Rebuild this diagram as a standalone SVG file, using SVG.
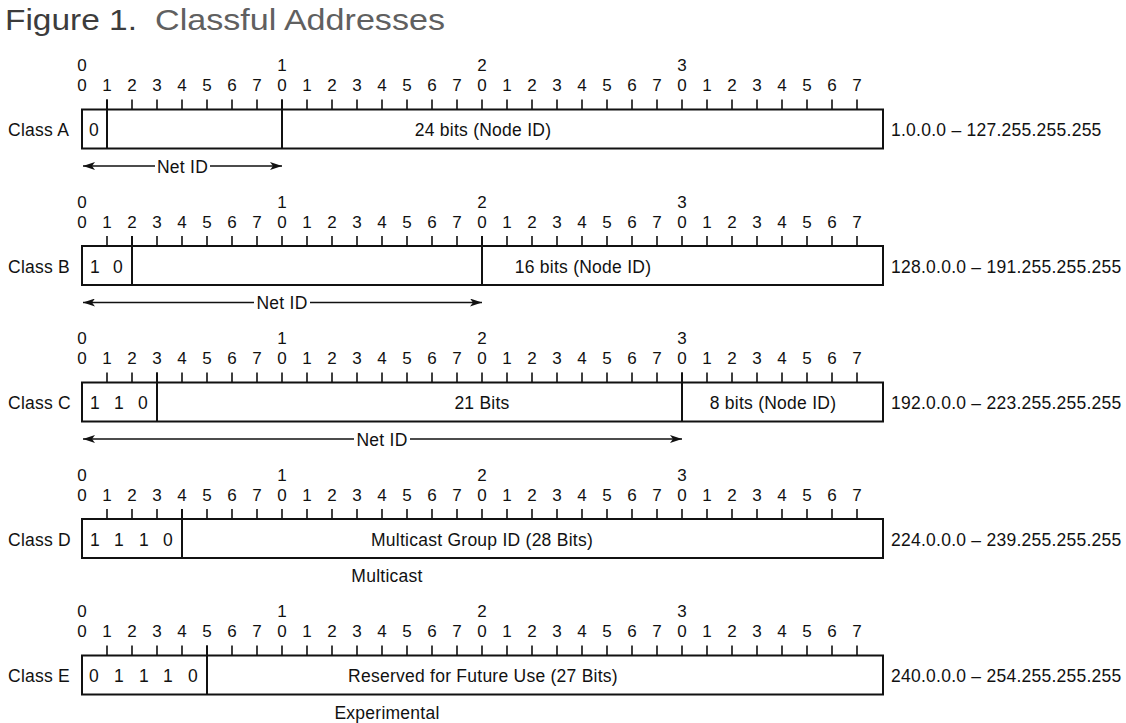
<svg xmlns="http://www.w3.org/2000/svg" width="1126" height="723" viewBox="0 0 1126 723">
  <style>
    text { font-family: "Liberation Sans", Arial, sans-serif; font-size: 17.5px; fill: #111; letter-spacing: 0.25px; }
    .dig { font-size: 17px; text-anchor: middle; letter-spacing: 0; }
    .mid { text-anchor: middle; }
    .box { fill: #fff; stroke: #111; stroke-width: 2; }
    .tick { fill: none; stroke: #111; stroke-width: 1.6; }
    .div { stroke: #111; stroke-width: 2; }
    .arrow { stroke: #111; stroke-width: 1.3; fill: none; }
  </style>
  <defs>
    <marker id="ah" viewBox="0 0 12 8" refX="12" refY="4" markerWidth="12" markerHeight="8" markerUnits="userSpaceOnUse" orient="auto-start-reverse">
      <path d="M0,0 L12,4 L0,8 L3,4 z" fill="#111"/>
    </marker>
  </defs>
  <rect width="1126" height="723" fill="#fff"/>

  <g id="title">
    <text x="5" y="29.5" style="font-size:29px;fill:#3c3c3c;letter-spacing:0" textLength="132" lengthAdjust="spacingAndGlyphs">Figure 1.</text>
    <text x="155" y="29.5" style="font-size:29px;fill:#606060;letter-spacing:0" textLength="290" lengthAdjust="spacingAndGlyphs">Classful Addresses</text>
  </g>

  <g id="classA">
    <text class="dig" x="82 282 482 682" y="71">0123</text>
    <text class="dig" x="82 107 132 157 182 207 232 257 282 307 332 357 382 407 432 457 482 507 532 557 582 607 632 657 682 707 732 757 782 807 832 857" y="91">01234567012345670123456701234567</text>
    <rect class="box" x="82" y="109.5" width="801" height="39"/>
    <path class="tick" d="M107 99.5v10m25-10v10m25-10v10m25-10v10m25-10v10m25-10v10m25-10v10m25-10v10m25-10v10m25-10v10m25-10v10m25-10v10m25-10v10m25-10v10m25-10v10m25-10v10m25-10v10m25-10v10m25-10v10m25-10v10m25-10v10m25-10v10m25-10v10m25-10v10m25-10v10m25-10v10m25-10v10m25-10v10m25-10v10m25-10v10m25-10v10"/>
    <line class="div" x1="107" y1="99.5" x2="107" y2="148.5"/>
    <line class="div" x1="282" y1="99.5" x2="282" y2="148.5"/>
    <text x="8" y="136">Class A</text>
    <text class="mid" x="94" y="136">0</text>
    <text class="mid" x="483" y="136">24 bits (Node ID)</text>
    <text x="891" y="136">1.0.0.0 – 127.255.255.255</text>
  </g>

  <g id="classB" transform="translate(0,136.5)">
    <text class="dig" x="82 282 482 682" y="71">0123</text>
    <text class="dig" x="82 107 132 157 182 207 232 257 282 307 332 357 382 407 432 457 482 507 532 557 582 607 632 657 682 707 732 757 782 807 832 857" y="91">01234567012345670123456701234567</text>
    <rect class="box" x="82" y="109.5" width="801" height="39"/>
    <path class="tick" d="M107 99.5v10m25-10v10m25-10v10m25-10v10m25-10v10m25-10v10m25-10v10m25-10v10m25-10v10m25-10v10m25-10v10m25-10v10m25-10v10m25-10v10m25-10v10m25-10v10m25-10v10m25-10v10m25-10v10m25-10v10m25-10v10m25-10v10m25-10v10m25-10v10m25-10v10m25-10v10m25-10v10m25-10v10m25-10v10m25-10v10m25-10v10"/>
    <line class="div" x1="132" y1="99.5" x2="132" y2="148.5"/>
    <line class="div" x1="482" y1="99.5" x2="482" y2="148.5"/>
    <text x="8" y="136">Class B</text>
    <text class="mid" x="95" y="136">1</text>
    <text class="mid" x="118" y="136">0</text>
    <text class="mid" x="583" y="136">16 bits (Node ID)</text>
    <text x="891" y="136">128.0.0.0 – 191.255.255.255</text>
  </g>

  <g id="classC" transform="translate(0,273)">
    <text class="dig" x="82 282 482 682" y="71">0123</text>
    <text class="dig" x="82 107 132 157 182 207 232 257 282 307 332 357 382 407 432 457 482 507 532 557 582 607 632 657 682 707 732 757 782 807 832 857" y="91">01234567012345670123456701234567</text>
    <rect class="box" x="82" y="109.5" width="801" height="39"/>
    <path class="tick" d="M107 99.5v10m25-10v10m25-10v10m25-10v10m25-10v10m25-10v10m25-10v10m25-10v10m25-10v10m25-10v10m25-10v10m25-10v10m25-10v10m25-10v10m25-10v10m25-10v10m25-10v10m25-10v10m25-10v10m25-10v10m25-10v10m25-10v10m25-10v10m25-10v10m25-10v10m25-10v10m25-10v10m25-10v10m25-10v10m25-10v10m25-10v10"/>
    <line class="div" x1="157" y1="99.5" x2="157" y2="148.5"/>
    <line class="div" x1="682" y1="99.5" x2="682" y2="148.5"/>
    <text x="8" y="136">Class C</text>
    <text class="mid" x="95" y="136">1</text>
    <text class="mid" x="119" y="136">1</text>
    <text class="mid" x="143" y="136">0</text>
    <text class="mid" x="482" y="136">21 Bits</text>
    <text class="mid" x="773" y="136">8 bits (Node ID)</text>
    <text x="891" y="136">192.0.0.0 – 223.255.255.255</text>
  </g>

  <g id="classD" transform="translate(0,409.5)">
    <text class="dig" x="82 282 482 682" y="71">0123</text>
    <text class="dig" x="82 107 132 157 182 207 232 257 282 307 332 357 382 407 432 457 482 507 532 557 582 607 632 657 682 707 732 757 782 807 832 857" y="91">01234567012345670123456701234567</text>
    <rect class="box" x="82" y="109.5" width="801" height="39"/>
    <path class="tick" d="M107 99.5v10m25-10v10m25-10v10m25-10v10m25-10v10m25-10v10m25-10v10m25-10v10m25-10v10m25-10v10m25-10v10m25-10v10m25-10v10m25-10v10m25-10v10m25-10v10m25-10v10m25-10v10m25-10v10m25-10v10m25-10v10m25-10v10m25-10v10m25-10v10m25-10v10m25-10v10m25-10v10m25-10v10m25-10v10m25-10v10m25-10v10"/>
    <line class="div" x1="182" y1="99.5" x2="182" y2="148.5"/>
    <text x="8" y="136">Class D</text>
    <text class="mid" x="95" y="136">1</text>
    <text class="mid" x="119" y="136">1</text>
    <text class="mid" x="144" y="136">1</text>
    <text class="mid" x="168" y="136">0</text>
    <text class="mid" x="482" y="136">Multicast Group ID (28 Bits)</text>
    <text x="891" y="136">224.0.0.0 – 239.255.255.255</text>
    <text class="mid" x="387" y="172.5">Multicast</text>
  </g>

  <g id="classE" transform="translate(0,546)">
    <text class="dig" x="82 282 482 682" y="71">0123</text>
    <text class="dig" x="82 107 132 157 182 207 232 257 282 307 332 357 382 407 432 457 482 507 532 557 582 607 632 657 682 707 732 757 782 807 832 857" y="91">01234567012345670123456701234567</text>
    <rect class="box" x="82" y="109.5" width="801" height="39"/>
    <path class="tick" d="M107 99.5v10m25-10v10m25-10v10m25-10v10m25-10v10m25-10v10m25-10v10m25-10v10m25-10v10m25-10v10m25-10v10m25-10v10m25-10v10m25-10v10m25-10v10m25-10v10m25-10v10m25-10v10m25-10v10m25-10v10m25-10v10m25-10v10m25-10v10m25-10v10m25-10v10m25-10v10m25-10v10m25-10v10m25-10v10m25-10v10m25-10v10"/>
    <line class="div" x1="207" y1="99.5" x2="207" y2="148.5"/>
    <text x="8" y="136">Class E</text>
    <text class="mid" x="94" y="136">0</text>
    <text class="mid" x="119" y="136">1</text>
    <text class="mid" x="144" y="136">1</text>
    <text class="mid" x="168" y="136">1</text>
    <text class="mid" x="193" y="136">0</text>
    <text class="mid" x="483" y="136">Reserved for Future Use (27 Bits)</text>
    <text x="891" y="136">240.0.0.0 – 254.255.255.255</text>
    <text class="mid" x="387" y="172.5">Experimental</text>
  </g>

  <g id="connectors">
    <line class="arrow" x1="83" y1="166" x2="155" y2="166" marker-start="url(#ah)"/>
    <line class="arrow" x1="210" y1="166" x2="282" y2="166" marker-end="url(#ah)"/>
    <line class="arrow" x1="83" y1="302.5" x2="254" y2="302.5" marker-start="url(#ah)"/>
    <line class="arrow" x1="310" y1="302.5" x2="482" y2="302.5" marker-end="url(#ah)"/>
    <line class="arrow" x1="83" y1="439" x2="354" y2="439" marker-start="url(#ah)"/>
    <line class="arrow" x1="410" y1="439" x2="682" y2="439" marker-end="url(#ah)"/>
  </g>
  <g id="netid-labels">
    <text class="mid" x="182.5" y="172.5">Net ID</text>
    <text class="mid" x="282" y="309">Net ID</text>
    <text class="mid" x="382" y="445.5">Net ID</text>
  </g>
</svg>
